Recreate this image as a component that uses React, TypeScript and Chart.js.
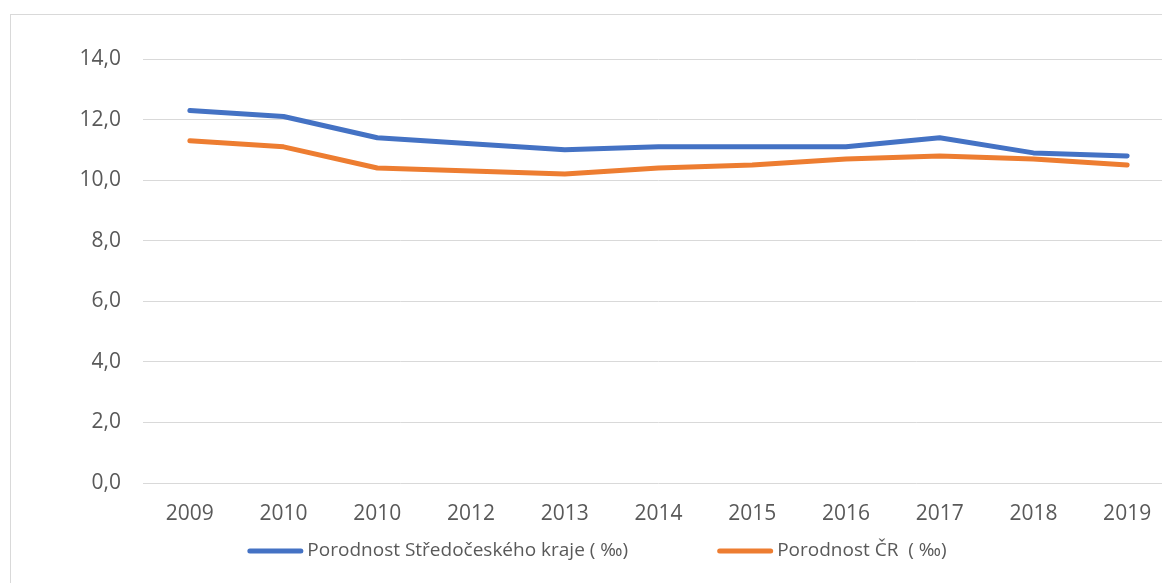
import React, { useEffect, useRef } from "react";
import { Chart, registerables } from "chart.js";

Chart.register(...registerables);

const categories = ["2009", "2010", "2010", "2012", "2013", "2014", "2015", "2016", "2017", "2018", "2019"];
const stredocesky = [12.3, 12.1, 11.4, 11.2, 11.0, 11.1, 11.1, 11.1, 11.4, 10.9, 10.8];
const cr = [11.3, 11.1, 10.4, 10.3, 10.2, 10.4, 10.5, 10.7, 10.8, 10.7, 10.5];
const seriesLabels = ["Porodnost Středočeského kraje ( ‰)", "Porodnost ČR  ( ‰)"];
const yMin = 0;
const yMax = 14;
const yStep = 2;

const FONT = "'Open Sans', sans-serif";
const TEXT = "#595959";
const GRID = "#D9D9D9";

const bottomLegend = {
  id: "bottomLegend",
  afterDraw(chart: any) {
    const ctx = chart.ctx;
    const y = 551;
    const lineLen = 56;
    const gapText = 4;
    const gapItems = 89;
    ctx.save();
    ctx.font = `19px ${FONT}`;
    const items = chart.data.datasets.map((ds: any) => ({
      label: ds.label as string,
      color: ds.borderColor as string,
      w: ctx.measureText(ds.label).width,
    }));
    const total =
      items.reduce((a: number, it: any) => a + lineLen + gapText + it.w, 0) + gapItems * (items.length - 1);
    let x = chart.width / 2 - total / 2;
    items.forEach((it: any) => {
      ctx.strokeStyle = it.color;
      ctx.lineWidth = 5;
      ctx.lineCap = "round";
      ctx.beginPath();
      ctx.moveTo(x + 2.5, y);
      ctx.lineTo(x + lineLen - 2.5, y);
      ctx.stroke();
      ctx.fillStyle = TEXT;
      ctx.textBaseline = "middle";
      ctx.textAlign = "left";
      ctx.fillText(it.label, x + lineLen + gapText, y);
      x += lineLen + gapText + it.w + gapItems;
    });
    ctx.restore();
  },
};

export default function App() {
  const ref = useRef<HTMLCanvasElement | null>(null);

  useEffect(() => {
    if (!ref.current) return;
    const chart = new Chart(ref.current, {
      type: "line",
      data: {
        labels: categories,
        datasets: [
          {
            label: seriesLabels[0],
            data: stredocesky,
            borderColor: "#4472C4",
            backgroundColor: "#4472C4",
            borderWidth: 5,
            pointRadius: 0,
            borderCapStyle: "round",
            borderJoinStyle: "round",
            tension: 0,
          },
          {
            label: seriesLabels[1],
            data: cr,
            borderColor: "#ED7D31",
            backgroundColor: "#ED7D31",
            borderWidth: 5,
            pointRadius: 0,
            borderCapStyle: "round",
            borderJoinStyle: "round",
            tension: 0,
          },
        ],
      },
      options: {
        animation: false,
        responsive: false,
        maintainAspectRatio: false,
        layout: { padding: { left: 0, right: 20, top: 59, bottom: 58 } },
        plugins: {
          legend: { display: false },
          tooltip: { enabled: false },
        },
        scales: {
          x: {
            offset: true,
            grid: { display: false, drawTicks: false },
            border: { display: false },
            ticks: {
              color: TEXT,
              font: { family: FONT, size: 21 },
              padding: 18,
              maxRotation: 0,
              autoSkip: false,
            },
            afterFit: (s: any) => {
              s.height = 42;
            },
          },
          y: {
            min: yMin,
            max: yMax,
            grid: { color: GRID, lineWidth: 1, drawTicks: false },
            border: { display: false },
            ticks: {
              stepSize: yStep,
              color: TEXT,
              font: { family: FONT, size: 21 },
              padding: 22,
              callback: (v: any) => Number(v).toFixed(1).replace(".", ","),
            },
            afterFit: (s: any) => {
              s.width = 143;
            },
          },
        },
      },
      plugins: [bottomLegend],
    });
    return () => chart.destroy();
  }, []);

  return (
    <div style={{ position: "absolute", left: 0, top: 0, width: 1162, height: 583, overflow: "hidden", background: "#fff" }}>
      <div
        style={{
          position: "absolute",
          left: 10,
          top: 14,
          width: 1168,
          height: 620,
          border: `1px solid ${GRID}`,
          boxSizing: "border-box",
        }}
      />
      <canvas
        ref={ref}
        width={1194}
        height={583}
        style={{ position: "absolute", left: 0, top: 0, width: 1194, height: 583 }}
      />
    </div>
  );
}
